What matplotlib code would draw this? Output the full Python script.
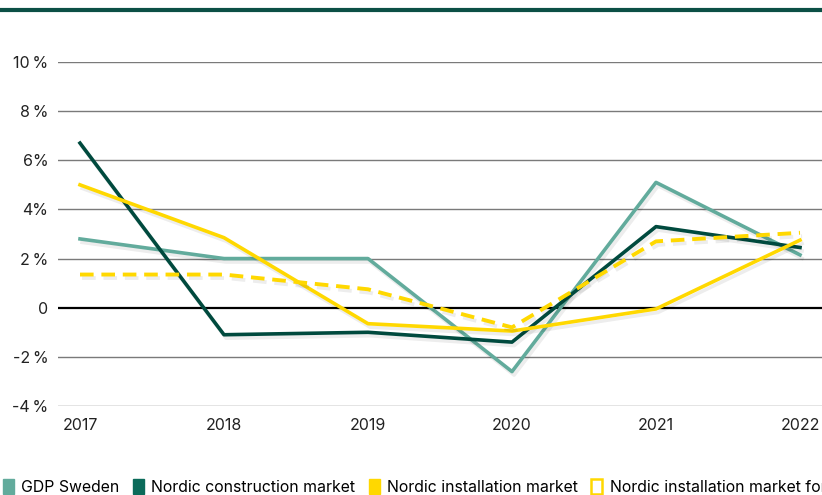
import matplotlib.pyplot as plt
import matplotlib.patheffects as pe
from matplotlib.patches import Patch
from matplotlib.lines import Line2D

plt.rcParams['font.family'] = ['Inter', 'DejaVu Sans']

years = ['2017', '2018', '2019', '2020', '2021', '2022']
gdp_sweden = [2.8, 2.0, 2.0, -2.6, 5.1, 2.15]
construction = [6.7, -1.1, -1.0, -1.4, 3.3, 2.45]
installation = [5.0, 2.85, -0.65, -0.95, -0.05, 2.75]
installation_fc = [1.35, 1.35, 0.75, -0.8, 2.7, 3.05]

yticks = [-4, -2, 0, 2, 4, 6, 8, 10]
ytick_labels = ['-4\u2009%', '-2\u2009%', '0', '2\u2009%', '4%', '6%', '8\u2009%', '10\u2009%']

c_gdp = '#62ab9c'
c_con = '#004a3e'
c_con_leg = '#0b6b5a'
c_yel = '#ffd800'

fig = plt.figure(figsize=(8.22, 4.95), dpi=100)
ax = fig.add_axes([58/822, 1 - 406/495, 1 - 58/822, (406 - 62)/495])

x = list(range(len(years)))
shadow = [pe.SimpleLineShadow(offset=(1.5, -2.5), shadow_color='k', alpha=0.07), pe.Normal()]

ax.plot(x, gdp_sweden, color=c_gdp, lw=2.6, path_effects=shadow, zorder=3)
ax.plot(x, construction, color=c_con, lw=2.6, path_effects=shadow, zorder=4)
ax.plot(x, installation, color=c_yel, lw=2.6, path_effects=shadow, zorder=5)
ax.plot(x, installation_fc, color=c_yel, lw=2.8, ls=(0, (3.5, 2)), path_effects=shadow, zorder=6)

for v in yticks:
    if v == 0:
        ax.axhline(0, color='black', lw=1.6, zorder=2)
    else:
        ax.axhline(v, color='#7a7a7a', lw=1.0, zorder=1)

ax.set_ylim(-4, 10)
ax.set_xlim(-22/144, 5 + 22/144)
ax.set_yticks(yticks)
ax.set_yticklabels(ytick_labels)
ax.set_xticks(x)
ax.set_xticklabels(years)
ax.tick_params(axis='both', length=0, labelsize=11.5, colors='#222222')
ax.tick_params(axis='y', pad=7)
ax.tick_params(axis='x', pad=9)
for s in ax.spines.values():
    s.set_visible(False)

fig.add_artist(Line2D([0, 1], [1 - 10/495, 1 - 10/495], color='#0b4f45', lw=3))

handles = [
    Patch(facecolor=c_gdp, edgecolor=c_gdp),
    Patch(facecolor=c_con_leg, edgecolor=c_con_leg),
    Patch(facecolor=c_yel, edgecolor=c_yel),
    Patch(facecolor='white', edgecolor=c_yel, lw=1.8),
]
labels = ['GDP Sweden', 'Nordic construction market', 'Nordic installation market',
          'Nordic installation market forecast']
fig.legend(handles, labels, loc='center left', bbox_to_anchor=(0.0, 1 - 487/495),
           ncol=4, frameon=False, fontsize=11.4, handlelength=0.7, handleheight=1.05,
           handletextpad=0.45, columnspacing=0.85, borderaxespad=0, borderpad=0.2)

fig.savefig('out.png', dpi=100)
